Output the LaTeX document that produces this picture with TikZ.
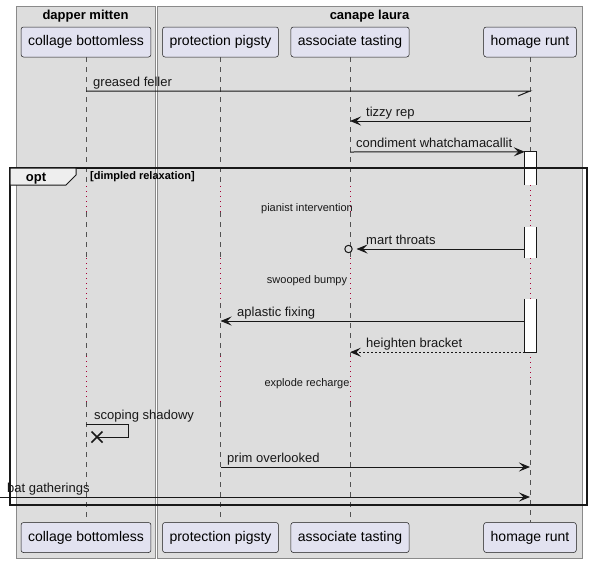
\documentclass[tikz,border=0pt]{standalone}
\usepackage{fontspec}
\setmainfont{Liberation Sans}
\usepackage{xcolor}
\usetikzlibrary{positioning, calc, arrows.meta}

\definecolor{ink}{HTML}{181818}
\definecolor{boxgray}{HTML}{DDDDDD}
\definecolor{boxline}{HTML}{8A8A8A}
\definecolor{partfill}{HTML}{E2E2F0}
\definecolor{delayred}{HTML}{A80036}
\definecolor{tabfill}{HTML}{EEEEEE}

\tikzset{
  >={Stealth[length=11pt, width=9pt, inset=4.5pt]},
  group/.style={draw=boxline, fill=boxgray, line width=0.8pt},
  grouptitle/.style={font=\fontsize{13}{15}\selectfont\bfseries, anchor=base, inner sep=0pt},
  part/.style={draw=ink, line width=0.5pt, fill=partfill, rounded corners=2.5pt,
    minimum height=30pt, inner xsep=7pt, font=\fontsize{14}{16}\selectfont},
  lifeline/.style={draw=ink!75, line width=0.6pt, dash pattern=on 5pt off 5pt},
  delay/.style={draw=delayred, line width=1pt, dash pattern=on 1.2pt off 3.8pt},
  act/.style={fill=white, draw=none, minimum width=11pt, inner sep=0pt},
  msg/.style={draw=ink, line width=1pt},
  msglabel/.style={font=\fontsize{13}{15}\selectfont, anchor=base west, inner sep=0pt, text=ink},
  delaylabel/.style={font=\fontsize{11}{13}\selectfont, anchor=base, inner sep=0pt, text=ink},
}

\begin{document}
\begin{tikzpicture}[x=1pt, y=-1pt]
    \path[fill=white, use as bounding box] (0,0) rectangle (592,563);

    % Boxes
    \draw[group] (16,6) rectangle (155,558);
    \draw[group] (157,6) rectangle (582,558);
    \node[grouptitle] (t-dapper) at (85.5,19) {dapper mitten};
    \node[grouptitle] (t-canape) at (369.5,19) {canape laura};

    % Participants, top and bottom
    \foreach \name/\x/\txt in {collage/86/collage bottomless, protection/220.5/protection pigsty,
        associate/350/associate tasting, homage/530/homage runt}{
      \node[part] (\name) at (\x,42) {\txt};
      \node[part] (\name-b) at (\x,537.5) {\txt};
    }

    % Lifelines
    \foreach \l in {collage, protection, associate}{
      \foreach \a/\b in {57/186, 212/258, 303/356, 402/522}
        \draw[lifeline] (\l |- 0,\a) -- (\l |- 0,\b);
      \foreach \a/\b in {186/212, 258/303, 356/402}
        \draw[delay] (\l |- 0,\a) -- (\l |- 0,\b);
    }
    \draw[lifeline] (homage.south) -- (homage |- 0,185);
    \draw[lifeline] (homage |- 0,380) -- (homage-b.north);
    \foreach \a/\b in {185/227, 258/299, 352/380}
      \draw[delay] (homage |- 0,\a) -- (homage |- 0,\b);

    % Activations
    \node[act, minimum height=33pt] (act1) at (530.5,168.5) {};
    \node[act, minimum height=31pt] (act2) at (530.5,242.5) {};
    \node[act, minimum height=53pt] (act3) at (530.5,325.5) {};
    \draw[ink, line width=1pt] (act1.south west) |- (act1.north east) -- (act1.south east);
    \draw[ink, line width=1pt] (act2.north west) -- (act2.south west);
    \draw[ink, line width=1pt] (act2.north east) -- (act2.south east);
    \draw[ink, line width=1pt] (act3.north west) |- (act3.south east) -- (act3.north east);

    % Messages
    \draw[msg] (collage |- 0,91) -- (homage |- 0,91) -- ++(-12,5);
    \draw[msg, ->] (homage |- 0,121) -- (associate |- 0,121);
    \draw[msg, ->] (associate |- 0,152) -- (act1.north west);
    \draw[msg, ->] (act2.west |- 0,249) -- ($(associate |- 0,249)+(6.5,0)$);
    \draw[ink, line width=1pt] ($(associate |- 0,249)+(-1.5,0)$) circle (3.7pt);
    \draw[msg, ->] (act3.west |- 0,321) -- (protection |- 0,321);
    \draw[msg, ->, dash pattern=on 2pt off 2pt] (act3.south west) -- (associate |- act3.south);
    \coordinate (xmark) at (97,437);
    \draw[msg] (collage |- 0,424) -- ++(42,0) |- (xmark);
    \draw[ink, line width=1.6pt] ($(xmark)+(-5.5,-5.5)$) -- ($(xmark)+(5.5,5.5)$)
      ($(xmark)+(-5.5,5.5)$) -- ($(xmark)+(5.5,-5.5)$);
    \draw[msg, ->] (protection |- 0,467) -- (homage |- 0,467);
    \coordinate (lost) at (0,497);
    \draw[msg, ->] (lost) -- (homage |- lost);

    % The labels
    \node[msglabel] (l-greased) at (93,86) {greased feller};
    \node[msglabel] (l-tizzy) at (366,116) {tizzy rep};
    \node[msglabel] (l-condiment) at (356,147) {condiment whatchamacallit};
    \node[msglabel] (l-mart) at (366,244) {mart throats};
    \node[msglabel] (l-aplastic) at (237,316) {aplastic fixing};
    \node[msglabel] (l-heighten) at (366,347) {heighten bracket};
    \node[msglabel] (l-scoping) at (94,419) {scoping shadowy};
    \node[msglabel] (l-prim) at (227,462) {prim overlooked};
    \node[msglabel] (l-bat) at (7,492) {bat gatherings};

    \node[delaylabel] (d-pianist) at (307,211) {pianist intervention};
    \node[delaylabel] (d-swooped) at (307,283) {swooped bumpy};
    \node[delaylabel] (d-explode) at (307,386) {explode recharge};

    % Opt frame
    \draw[ink, line width=1.5pt] (10,168) rectangle (587,505);
    \draw[ink, line width=1pt, fill=tabfill] (10,168) -- (76,168) -- (76,175) -- (66,185) -- (10,185) -- cycle;
    \node[grouptitle] (f-opt) at (36,181) {opt};
    \node[font=\fontsize{11}{13}\selectfont\bfseries, anchor=base west, inner sep=0pt] (f-guard) at (90,179) {[dimpled relaxation]};
  \end{tikzpicture}
\end{document}
